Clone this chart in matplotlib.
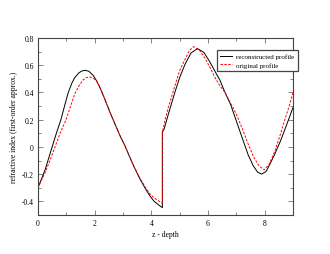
import matplotlib
matplotlib.use('Agg')
import matplotlib.pyplot as plt
from matplotlib.ticker import MultipleLocator

plt.rcParams['font.family'] = ['Liberation Serif', 'DejaVu Serif']

# reconstructed profile (black, solid)
rec_z = [0.00, 0.25, 0.50, 0.65, 0.81, 0.95, 1.07, 1.20, 1.30, 1.45, 1.55, 1.67,
         1.80, 1.95, 2.07, 2.20, 2.36, 2.55, 2.72, 2.90, 3.07, 3.25, 3.40, 3.60,
         3.80, 3.95, 4.10, 4.25, 4.39,
         4.39, 4.45, 4.60, 4.83, 5.00, 5.19, 5.40, 5.63, 5.85, 6.05, 6.24, 6.42,
         6.60, 6.80, 7.00, 7.20, 7.42, 7.60, 7.75, 7.89, 8.05, 8.20, 8.36, 8.55,
         8.77, 9.00]
rec_n = [-0.30, -0.17, 0.00, 0.10, 0.20, 0.31, 0.40, 0.47, 0.51, 0.545, 0.558, 0.563,
         0.555, 0.525, 0.485, 0.43, 0.35, 0.25, 0.167, 0.08, 0.008, -0.08, -0.15, -0.236,
         -0.31, -0.36, -0.40, -0.425, -0.446,
         0.11, 0.13, 0.24, 0.40, 0.51, 0.607, 0.69, 0.722, 0.695, 0.63, 0.558, 0.49,
         0.40, 0.31, 0.19, 0.07, -0.06, -0.14, -0.185, -0.20, -0.18, -0.12, -0.05, 0.04,
         0.16, 0.29]

# original profile (red, dashed)
orig_z = [0.00, 0.25, 0.45, 0.60, 0.80, 0.99, 1.15, 1.30, 1.45, 1.58, 1.70, 1.83,
          1.95, 2.07, 2.20, 2.36, 2.55, 2.72, 2.90, 3.07, 3.25, 3.40, 3.60,
          3.80, 3.95, 4.10, 4.25, 4.39,
          4.39, 4.50, 4.60, 4.83, 5.00, 5.19, 5.35, 5.50, 5.70, 5.90, 6.10, 6.30,
          6.45, 6.60, 6.80, 7.00, 7.20, 7.40, 7.60, 7.80, 7.98, 8.15, 8.36, 8.55,
          8.71, 8.85, 9.00]
orig_n = [-0.30, -0.19, -0.085, 0.00, 0.11, 0.20, 0.30, 0.39, 0.45, 0.49, 0.508, 0.514,
          0.505, 0.485, 0.43, 0.35, 0.25, 0.167, 0.08, 0.008, -0.08, -0.15, -0.23,
          -0.30, -0.345, -0.375, -0.395, -0.414,
          0.11, 0.21, 0.29, 0.448, 0.56, 0.644, 0.71, 0.737, 0.71, 0.65, 0.57, 0.49,
          0.44, 0.40, 0.32, 0.24, 0.14, 0.03, -0.07, -0.14, -0.168, -0.13, -0.03, 0.09,
          0.20, 0.29, 0.40]

fig = plt.figure(figsize=(3.3, 2.55), dpi=100)
ax = fig.add_axes([0.115, 0.153, 0.773, 0.694])

ax.plot(rec_z, rec_n, color='black', lw=0.7, label='reconstructed profile')
ax.plot(orig_z, orig_n, color='red', lw=0.7, ls=(0, (2.5, 1.5)), label='original profile')

ax.set_xlim(0, 9)
ax.set_ylim(-0.5, 0.8)
ax.xaxis.set_major_locator(MultipleLocator(2))
ax.xaxis.set_minor_locator(MultipleLocator(1))
ax.yaxis.set_minor_locator(MultipleLocator(0.1))
ax.set_yticks([-0.4, -0.2, 0, 0.2, 0.4, 0.6, 0.8])
ax.set_yticklabels(['-0.4', '-0.2', '0', '0.2', '0.4', '0.6', '0.8'])
ax.tick_params(which='both', direction='in', top=True, right=True, labelsize=5.5,
               width=0.5, pad=3, color='#555555')
ax.tick_params(which='major', length=3.5)
ax.tick_params(which='minor', length=2)
for s in ax.spines.values():
    s.set_linewidth(0.8)
    s.set_color('#444444')

ax.set_xlabel('z - depth', fontsize=5.5, labelpad=2)
ax.set_ylabel('refractive index (first-order approx.)', fontsize=5.5, labelpad=3)

leg = ax.legend(loc='upper left', bbox_to_anchor=(0.657, 0.801), bbox_transform=fig.transFigure,
                fontsize=5, frameon=True, fancybox=False, framealpha=1,
                handlelength=1.7, handletextpad=0.6, borderpad=0.5, labelspacing=0.4,
                borderaxespad=0)
leg.get_frame().set_edgecolor('#444444')
leg.get_frame().set_linewidth(0.9)

fig.savefig('out.png', dpi=100)
